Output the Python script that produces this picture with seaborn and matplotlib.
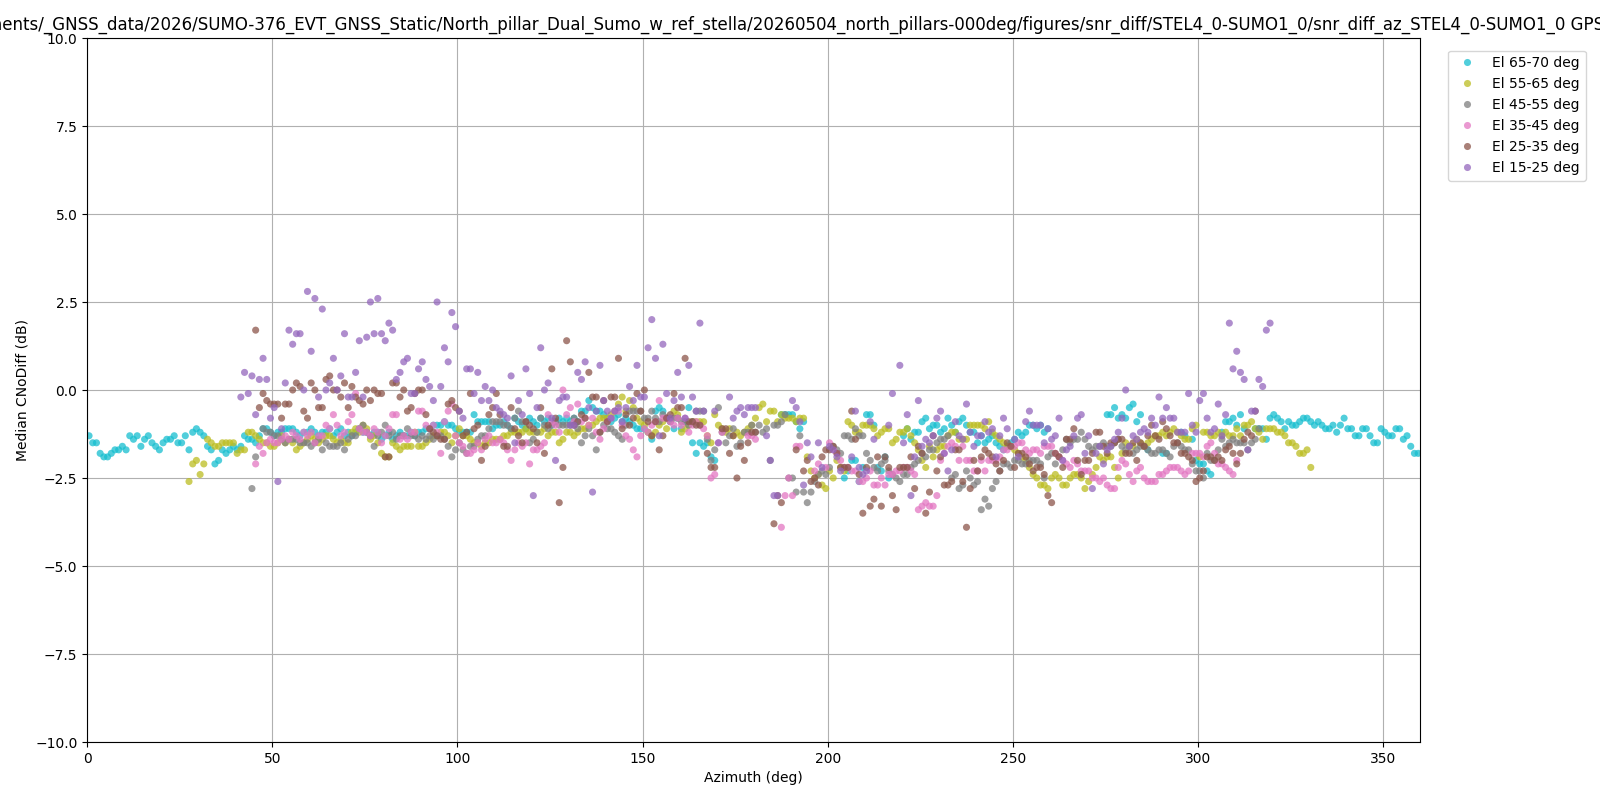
import numpy as np
import pandas as pd
import seaborn as sns
import matplotlib
matplotlib.use("Agg")
import matplotlib.pyplot as plt

nan = np.nan

# --- DADOS (mediana CNo diff por bin de azimute de 1 grau) ---
TITLE = ("/home/user/Documents/_GNSS_data/2026/SUMO-376_EVT_GNSS_Static/"
         "North_pillar_Dual_Sumo_w_ref_stella/20260504_north_pillars-000deg/figures/"
         "snr_diff/STEL4_0-SUMO1_0/snr_diff_az_STEL4_0-SUMO1_0 GPS L1C")

BANDS = ["El 65-70 deg", "El 55-65 deg", "El 45-55 deg",
         "El 35-45 deg", "El 25-35 deg", "El 15-25 deg"]
COLORS = ["#17becf", "#bcbd22", "#7f7f7f", "#e377c2", "#8c564b", "#9467bd"]

# primeiro bin de azimute (graus) de cada faixa de elevacao
FIRST_BIN = [0, 27, 44, 45, 45, 41]

EL_65_70 = [
    -1.3, -1.5, -1.5, -1.8, -1.9, -1.9, -1.8, -1.7, -1.7, -1.6,
    -1.7, -1.3, -1.4, -1.3, -1.6, -1.4, -1.3, -1.5, -1.6, -1.7,
    -1.5, -1.4, -1.4, -1.3, -1.5, -1.5, -1.3, -1.7, -1.2, -1.1,
    -1.2, -1.3, -1.6, -1.7, -2.1, -2.0, -1.7, -1.8, -1.7, -1.6,
    -1.7, -1.6, -1.3, -1.4, -1.4, -1.5, -1.3, -1.1, -1.1, -1.2,
    -1.3, -1.2, -1.2, -1.1, -1.1, -1.1, -1.2, -1.3, -1.2, -1.2,
    -1.1, -1.2, -1.3, -1.2, -1.2, -1.1, -1.3, -1.2, -1.1, -1.3,
    -1.2, -1.3, -1.2, -1.1, -1.2, -1.2, -1.3, -1.2, -1.2, -1.4,
    -1.3, -1.2, -1.4, -1.3, -1.2, -1.3, -1.3, -1.2, -1.3, -1.2,
    -1.2, -1.1, -1.1, -1.0, -1.0, -1.0, -0.9, -1.0, -1.0, -1.1,
    -1.2, -1.2, -1.2, -1.2, -0.7, -0.9, -0.9, -0.9, -0.9, -1.1,
    -1.0, -1.0, -0.9, -1.0, -1.1, -0.8, -0.9, -1.0, -1.1, -0.8,
    -0.9, -1.0, -0.8, -0.9, -0.8, -1.0, -0.9, -0.8, -0.9, -0.8,
    -0.9, -0.8, -0.9, -0.6, -0.6, -0.3, -0.5, -0.6, -0.6, -0.7,
    -0.8, -0.9, -0.8, -0.7, -0.9, -0.8, -0.9, -1.0, -1.1, -1.1,
    -1.1, -1.2, -1.4, -0.6, -0.5, -0.6, -0.8, -0.9, -1.1, -0.8,
    -1.1, -0.9, -0.5, -1.5, -1.8, -1.5, -1.6, -1.5, -1.9, -2.0,
    nan, nan, nan, nan, nan, nan, nan, nan, nan, nan,
    nan, nan, nan, nan, nan, nan, nan, -0.7, -0.7, -0.7,
    -0.7, -0.9, -1.1, -0.9, nan, nan, nan, nan, nan, nan,
    nan, nan, nan, nan, -2.5, -2.3, -2.0, -2.0, -2.6, -2.2,
    -0.7, -0.7, -1.0, -2.2, -2.3, -1.9, -2.5, nan, nan, nan,
    -1.3, -1.1, -1.4, -1.2, -1.2, -0.9, -0.8, -1.1, -1.0, -1.0,
    -1.2, -1.1, -0.8, -1.0, -1.2, -0.9, -0.8, -1.0, -1.2, -1.2,
    -1.5, -1.3, -1.5, -1.4, -1.3, -1.5, -1.6, -1.7, -1.6, -1.5,
    -1.4, -1.2, -1.3, -1.2, -1.0, -1.0, -1.1, -1.0, -1.2, -1.1,
    nan, nan, nan, nan, nan, nan, nan, nan, nan, nan,
    nan, nan, nan, nan, nan, -0.7, -0.7, -0.5, -0.8, -0.7,
    -0.8, -0.5, -0.4, -0.9, -0.7, nan, -1.7, nan, nan, nan,
    -1.8, -1.8, nan, nan, nan, -1.2, -1.3, nan, -1.4, -2.0,
    -2.1, -2.1, -2.3, -2.4, nan, nan, -1.2, -0.9, -0.9, -0.8,
    -1.0, -0.7, -1.1, nan, nan, -1.1, -1.1, -1.1, -1.4, -0.8,
    -0.7, -0.8, -0.9, -1.1, -0.9, -1.0, -1.0, -0.9, -0.8, -0.8,
    -0.9, -1.0, -0.9, -1.0, -1.1, -1.1, -1.0, -1.2, -1.0, -0.8,
    -1.1, -1.1, -1.3, -1.3, -1.1, -1.1, -1.3, -1.5, -1.5, -1.1,
    -1.2, -1.3, -1.3, -1.1, -1.1, -1.4, -1.3, -1.6, -1.8, -1.8,
]

EL_55_65 = [
    -2.6, -2.1, -2.0,
    -2.4, -2.1, -1.4, -1.5, -1.6, -1.6, -1.5, -1.5, -1.5, -1.5,
    -1.8, -1.7, -1.7, -1.2, -1.2, -1.3, -1.4, -1.5, -1.5, -1.6,
    -1.6, -1.5, -1.3, -1.5, -1.4, -1.5, -1.7, -1.6, -1.5, -1.4,
    -1.3, -1.4, -1.5, -1.4, -1.3, -1.3, -1.4, -1.5, -1.4, -1.5,
    -1.5, -1.2, -1.1, -1.2, -1.0, -1.1, -1.4, -1.3, -1.5, -1.8,
    -1.9, -1.9, -1.5, -1.6, -1.7, -1.6, -1.6, -1.6, -1.2, -1.6,
    -1.6, -1.5, -1.4, -1.3, -1.3, -1.2, -1.2, -1.3, -1.5, -1.3,
    -1.1, -1.3, -1.3, -1.4, -1.5, -1.5, -1.6, -1.5, -1.5, -1.4,
    -1.4, -1.4, -1.3, -1.3, -1.2, -1.2, -1.2, -1.2, -1.1, -1.2,
    -1.2, -1.2, -1.2, -1.1, -1.3, -1.2, -1.2, -1.5, -1.4, -1.2,
    -1.2, -1.3, -1.2, -1.1, -1.1, -1.0, -1.0, -0.9, -0.8, -0.8,
    -0.8, -0.7, -0.6, -0.4, -0.2, -0.6, -0.3, -0.5, -0.8, -0.9,
    -1.0, -1.2, -1.3, -1.2, -1.0, -0.9, -1.1, -0.8, -0.6, -0.7,
    -1.2, -1.1, -1.0, -0.9, -0.9, -0.9, -0.9, -1.3, -1.5, -0.7,
    -1.0, -1.1, -1.2, -1.1, -1.3, -1.2, -1.3, -1.2, -1.1, -1.0,
    -0.8, -0.5, -0.4, -0.9, -0.6, -0.6, -0.9, -0.7, -0.8, -0.8,
    -0.8, -0.9, -0.8, -0.8, -1.9, -2.3, -2.5, -2.4, -2.7, -2.8,
    -2.3, -2.5, -2.0, -2.2, -2.3, -0.9, -1.0, -1.2, -1.2, -1.0,
    -1.0, -1.0, -1.1, -1.3, -1.2, -1.1, -1.1, -1.5, -1.4, -1.2,
    -1.2, -1.1, -1.3, -1.5, -1.7, -2.0, -2.2, -1.6, -1.9, -1.7,
    -1.6, -1.6, -1.3, -1.2, -1.2, -1.4, -1.4, -1.4, -1.0, -1.0,
    -1.0, -1.0, -1.1, -0.9, -1.2, -1.3, -1.4, -1.5, -1.6, -1.6,
    -1.7, -1.8, -1.9, -2.0, -2.2, -2.4, -2.5, -2.7, -2.7, -2.8,
    -2.5, -2.4, -2.5, -2.7, -2.7, -2.5, -2.4, -2.4, -2.5, -2.8,
    -2.6, -2.4, -2.2, -1.9, -2.0, -1.9, -1.9, -2.2, -2.5, -1.8,
    -1.5, -1.6, -1.6, -1.4, -1.5, -1.6, -1.5, -1.4, -1.3, -1.3,
    -1.2, -1.3, -1.2, -1.1, -1.2, -1.3, -1.4, -1.4, -1.1, -1.0,
    -1.9, -1.2, -1.2, -1.3, -1.3, -1.2, -1.3, -1.2, -1.3, -1.3,
    -1.1, -1.3, -1.0, -1.0, -0.9, -1.1, -1.2, -1.4, -1.1, -1.1,
    -1.1, -1.2, -1.2, -1.3, -1.5, -1.5, -1.6, -1.8, -1.8, -1.7,
    -2.2,
]

EL_45_55 = [
    -2.8, -1.9, nan, -1.1, -1.2, -1.2,
    -1.3, -1.3, -1.4, -1.5, -1.4, -1.4, -1.4, -1.5, -1.5, -1.5,
    -1.6, -1.5, -1.4, -1.7, -1.5, -1.6, -1.6, -1.6, -1.5, -1.7,
    -1.4, -1.3, -1.3, -1.1, -1.0, -1.2, -1.3, -1.6, -1.3, -1.2,
    -1.0, -1.3, -1.2, -1.4, -1.3, -1.3, -1.1, -1.3, -1.3, -1.4,
    -1.3, -1.4, -1.3, -1.4, -1.3, -1.3, -1.4, -1.6, -1.9, -1.7,
    -1.5, -1.7, -1.8, -1.6, -1.6, -1.4, -1.3, -1.3, -1.1, -0.9,
    -0.9, -0.9, -1.0, -1.0, -1.1, -0.8, -0.6, -0.9, -0.9, -1.5,
    -1.4, -1.2, -0.8, -1.0, -1.1, -1.0, -0.9, -1.0, -1.0, -1.0,
    -1.0, -0.8, -1.1, -1.5, -1.3, -1.1, -1.3, -1.7, -1.2, -1.0,
    -1.1, -1.1, -1.2, -1.3, -1.4, -1.0, -0.6, -0.6, -0.6, -0.6,
    -0.8, -0.8, -0.6, -0.8, -0.9, -0.7, -0.8, -0.9, -0.8, -0.8,
    -0.9, -0.9, -1.0, -0.9, -0.6, -0.6, -0.6, -1.4, -2.0, -1.7,
    -0.5, -1.2, -1.5, -1.3, -1.1, -1.6, -1.5, -1.2, -1.2, -1.0,
    -1.2, -1.0, -1.2, -1.1, -2.0, -1.0, -1.0, -0.9, -0.7, -2.5,
    -2.5, -2.9, -1.3, -2.9, -3.2, -2.9, -2.6, -2.4, -2.3, -2.4,
    -2.2, -1.6, -1.7, -1.8, -1.3, -1.3, -1.4, -1.1, -1.3, -1.3,
    -1.8, -2.0, -2.2, -2.3, -2.1, -2.0, -2.3, -2.4, -2.5, -2.6,
    -2.4, -2.4, -2.2, -2.1, -2.0, -1.8, -1.9, -1.7, -1.7, -1.5,
    -1.4, -1.4, -1.3, -2.5, -2.4, -2.8, -2.7, -2.3, -2.5, -2.7,
    -2.6, -3.4, -3.1, -3.3, -2.8, -2.6, -2.3, -2.1, -2.1, -2.2,
    -2.0, -2.0, -2.1, -2.1, -2.0, -2.0, -2.0, -2.1, -2.5, -1.9,
    -1.8, -2.1, -1.9, -1.7, -1.4, -1.5, -1.4, -1.4, -1.2, -1.4,
    -1.6, -1.7, -1.6, -1.6, -1.5, -1.6, -1.6, -1.5, -1.4, -1.6,
    -1.7, -1.6, -1.8, -1.7, -1.6, -1.6, -1.7, -1.8, -1.8, -1.7,
    -1.7, -1.8, -1.9, -1.6, -1.5, -1.6, -1.7, -1.7, -2.1, -2.3,
    -2.3, -2.5, -1.8, -2.0, -2.0, -1.7, -1.4, -1.6, -1.5, -1.4,
    -1.5, -1.5, -1.5, -1.7, -1.5, -1.4, -1.1,
]

EL_35_45 = [
    -2.1, -1.6, -1.8, -1.5, -1.4,
    -1.5, -1.5, -1.4, -1.3, -1.4, -1.2, -1.3, -1.4, -1.2, -1.3,
    -1.2, -1.5, -1.3, -1.3, -1.0, -1.1, -0.7, -1.0, -1.3, -1.2,
    -0.9, -0.7, -0.1, -1.1, -1.2, -1.2, -1.3, -1.1, -1.2, -1.5,
    -1.3, -1.1, -0.7, -0.7, -1.4, -1.3, -1.4, -1.2, -1.2, -0.6,
    -0.6, -1.0, -1.1, -1.0, -1.2, -1.8, -0.9, -0.6, -0.4, -1.3,
    -1.5, -1.6, -1.8, -1.8, -1.7, -1.5, -1.7, -1.4, -1.3, -1.5,
    -1.5, -1.4, -1.5, -1.7, -2.0, -1.7, -1.5, -1.6, -1.5, -2.1,
    -1.7, -1.7, -1.6, -1.5, -0.7, -0.9, -1.0, -1.2, 0.0, -0.7,
    -0.5, -0.9, -0.4, -0.9, -0.8, -1.0, -0.8, -1.2, -1.4, -1.1,
    -0.9, -0.8, -0.6, -0.6, -1.0, -1.3, -1.4, -1.7, -1.9, -1.3,
    -1.1, -1.2, -1.0, -0.9, -0.3, -0.8, -0.8, -0.9, -1.0, -0.8,
    -1.0, -0.8, -1.2, -1.0, -0.9, -1.0, -1.1, -1.3, -2.5, -2.4,
    -1.5, -1.2, nan, nan, nan, nan, nan, nan, -1.3, -1.3,
    -1.4, nan, nan, nan, nan, nan, nan, -3.9, -3.0, -2.5,
    -3.0, -1.6, -1.6, nan, nan, nan, -2.3, -2.1, nan, -2.2,
    -1.5, -1.7, -1.8, -2.0, -2.2, -2.2, -2.3, -2.3, -2.6, -2.6,
    -2.5, -2.3, -2.7, -2.7, -2.5, -2.7, -2.4, -2.4, -2.3, -2.3,
    -2.2, -2.2, -2.3, -2.4, -3.4, -3.3, -3.2, -3.3, -3.3, -3.0,
    -2.0, -1.8, -1.6, -1.5, -1.6, -2.0, -1.6, -2.0, -2.0, -2.3,
    -2.3, -2.0, -2.3, -2.0, -2.0, -2.0, -1.9, -1.7, -1.7, -1.6,
    -1.6, -1.5, -1.5, -1.7, -1.8, -1.7, -1.7, -1.8, -1.6, -1.6,
    -1.6, -1.8, -1.9, -2.0, -2.1, -2.2, -2.0, -2.1, -2.3, -2.3,
    -2.3, -2.5, -2.5, -2.6, -2.5, -2.7, -2.8, -2.8, -2.2, -2.0,
    -2.1, -2.4, -2.6, -2.3, -2.2, -2.5, -2.6, -2.6, -2.6, -2.4,
    -2.4, -2.3, -2.2, -2.2, -2.2, -2.3, -2.4, -2.3, -1.8, -1.8,
    -1.8, -1.9, -1.6, -1.5, -1.8, -2.1, -2.1, -2.2, -2.3, -2.4,
    -2.0,
]

EL_25_35 = [
    1.7, -0.5, -0.1, -0.3, -0.4,
    -0.4, -0.4, -0.8, -0.4, -0.4, 0.0, 0.2, 0.1, -0.6, -0.8,
    0.2, 0.0, -0.5, -0.5, 0.3, 0.4, 0.0, 0.0, -0.2, 0.2,
    -0.5, 0.1, -0.2, -0.3, -0.4, 0.0, -0.3, 0.0, -0.1, -0.1,
    -1.9, -1.9, 0.2, 0.2, -0.2, 0.0, -0.6, -0.5, -0.1, 0.0,
    0.0, -0.7, -1.1, -1.2, -1.3, -1.4, -1.4, -0.4, -0.3, -0.5,
    -0.6, -1.3, -1.2, -0.1, -1.1, -1.0, -2.0, -1.6, -0.7, -0.5,
    -0.1, -0.7, -1.6, -1.6, -0.5, -1.1, -1.3, -1.5, -0.9, -1.0,
    -1.1, -1.5, -0.5, -1.8, -1.0, 0.6, -0.8, -3.2, -2.2, 1.4,
    0.8, -1.0, -0.9, -0.7, -0.8, 0.5, -0.2, -0.2, -1.2, -0.3,
    -0.9, -0.2, -0.2, 0.9, -1.1, -0.7, -1.0, -0.8, -0.1, -0.6,
    0.0, -0.9, -1.3, -0.9, -1.7, -1.3, -0.8, -0.7, -0.1, -0.5,
    -0.5, 0.9, -0.9, -0.9, -1.0, -1.0, nan, -1.8, -2.2, -2.2,
    nan, -1.1, -1.1, -1.8, -1.3, -2.5, -1.6, -2.0, -1.5, -1.2,
    -1.2, nan, nan, nan, nan, -3.8, -3.0, -3.2, nan, nan,
    nan, -1.7, nan, -2.3, -2.0, -2.6, -2.5, -2.7, -1.9, -1.7,
    -1.7, -1.6, -1.8, -2.2, -2.2, -2.2, -0.6, -1.4, -2.4, -3.5,
    -2.2, -3.3, -3.1, -1.9, -3.3, -1.9, -2.2, -3.0, -3.4, -2.2,
    -2.2, -2.2, -1.9, -2.8, -1.6, -1.8, -3.5, -2.9, -1.3, -2.3,
    -1.9, -2.7, -2.7, -2.6, -1.7, -1.7, -2.6, -3.9, -2.8, -2.0,
    -2.3, -1.9, -1.7, -1.8, -1.9, -2.1, -2.3, -2.0, -1.5, -1.6,
    -2.2, -1.8, -1.8, -1.9, -2.1, -2.3, -2.2, -2.2, -2.4, -3.0,
    -3.2, -1.8, -1.9, -2.2, -1.4, -1.4, -1.1, -2.0, -2.4, -2.0,
    -2.0, -1.8, -1.2, -1.2, -1.6, -1.8, -1.5, -1.5, -1.4, -1.4,
    -1.8, -1.8, -1.5, -2.0, -1.5, -1.6, -1.3, -1.0, -1.3, -1.4,
    -0.9, -1.1, -1.3, -1.5, -1.5, -1.8, -1.8, -1.9, -2.0, -2.6,
    -2.5, -2.3, -1.9, -1.9, -2.0, -1.9, -2.0, -1.7, -1.6, -1.8,
    -2.1, -1.8, -1.4, -1.2, -1.3, -0.6,
]

EL_15_25 = [
    -0.2, 0.5, -0.1, 0.4, -0.7, 0.3, 0.9, 0.3, -0.8,
    -0.5, -2.6, -1.1, 0.2, 1.7, 1.3, 1.6, 1.6, 0.0, 2.8,
    1.1, 2.6, -0.2, 2.3, 0.0, 0.2, 0.9, 0.0, 0.4, 1.6,
    -0.2, -0.2, 0.5, 1.4, -0.2, 1.5, 2.5, 1.6, 2.6, 1.6,
    1.4, 1.9, 1.7, 0.3, 0.5, 0.8, 0.9, -0.1, -0.1, 0.6,
    0.8, 0.3, 0.1, -0.3, 2.5, 0.1, 1.2, 0.8, 2.2, 1.8,
    -0.6, -0.8, 0.6, 0.6, -0.1, 0.5, -0.3, 0.1, -0.3, 0.0,
    -0.5, -0.6, -0.7, -0.8, 0.4, -1.5, -0.3, -0.7, 0.6, -0.1,
    -3.0, -0.5, 1.2, 0.0, 0.2, -0.8, -2.0, -0.3, -0.2, -0.2,
    -1.0, -1.0, 0.5, 0.3, 0.8, -0.5, -2.9, -0.6, 0.7, -0.3,
    -0.6, -0.8, -0.6, -0.5, -0.9, -0.5, 0.1, -0.3, 0.7, -0.2,
    -0.2, 1.2, 2.0, 0.9, -1.3, 1.3, -0.1, -0.8, -0.3, 0.5,
    -0.2, -0.8, 0.7, -0.2, -0.6, 1.9, -0.6, nan, nan, -0.6,
    -1.5, nan, nan, -0.2, -0.8, -0.6, -0.5, -0.7, -0.5, -0.5,
    -0.5, nan, nan, -1.3, -2.0, -3.0, -3.0, nan, nan, nan,
    -0.3, -0.5, -0.9, -2.7, -1.5, -1.9, nan, -1.5, -2.2, nan,
    -1.6, -1.7, -1.9, -2.3, nan, nan, -1.9, -0.6, -2.2, -2.4,
    -2.3, -0.9, -1.4, nan, nan, nan, -1.0, -0.1, nan, 0.7,
    -1.5, -0.7, -3.0, -1.9, -0.3, -1.6, -1.4, -1.5, -1.3, -0.8,
    -0.6, -1.8, -2.3, -1.7, -0.9, -1.3, -1.4, -0.4, -1.2, -1.6,
    -1.3, -1.3, -0.9, -1.2, -1.1, -1.9, -1.3, -0.8, -1.1, nan,
    -1.4, -1.9, nan, -0.9, -0.6, -1.0, -1.0, -1.0, -1.5, -1.1,
    -1.4, -1.3, -0.8, -2.0, -1.7, -1.6, -1.3, -0.8, -0.7, -1.8,
    -1.3, -2.8, -1.8, -1.6, -2.1, -1.7, -1.6, -1.4, -1.2, -0.8,
    0.0, -1.6, -1.3, -1.4, -1.2, -1.1, -1.2, -0.8, -1.0, -0.2,
    -0.8, -0.5, -0.8, -0.8, -1.2, -1.2, -1.2, -0.1, -1.0, -1.2,
    -0.3, -0.1, -0.8, -1.2, -1.1, -0.4, -1.3, -0.7, 1.9, 0.6,
    1.1, 0.5, 0.3, -1.7, -0.6, -0.6, 0.3, 0.1, 1.7, 1.9,
]

SERIES = [EL_65_70, EL_55_65, EL_45_55, EL_35_45, EL_25_35, EL_15_25]


def build_frame():
    """Monta o DataFrame longo (azimute, valor, faixa)."""
    rows = []
    for band, start, values in zip(BANDS, FIRST_BIN, SERIES):
        for i, v in enumerate(values):
            if np.isnan(v):
                continue
            rows.append({"az": start + i + 0.5, "cno": v, "band": band})
    return pd.DataFrame(rows)


df = build_frame()

fig = plt.figure(figsize=(16, 8), dpi=100)
ax = fig.add_axes([0.0545, 0.0725, 0.833, 0.88])

sns.scatterplot(data=df, x="az", y="cno", hue="band", hue_order=BANDS,
                palette=COLORS, s=26, alpha=0.75, linewidth=0, ax=ax)

ax.set_xlim(0, 360)
ax.set_ylim(-10, 10)
ax.set_yticks(np.arange(-10, 10.1, 2.5))
ax.grid(True)
ax.set_axisbelow(True)
ax.set_xlabel("Azimuth (deg)")
ax.set_ylabel("Median CNoDiff (dB)")
# titulo longo: centralizado um pouco a esquerda, como no original
ax.set_title(TITLE, x=0.4915)

sns.move_legend(ax, "upper left", bbox_to_anchor=(1.021, 0.982),
                borderaxespad=0, title=None, frameon=True)

fig.savefig("out.png", dpi=100)
